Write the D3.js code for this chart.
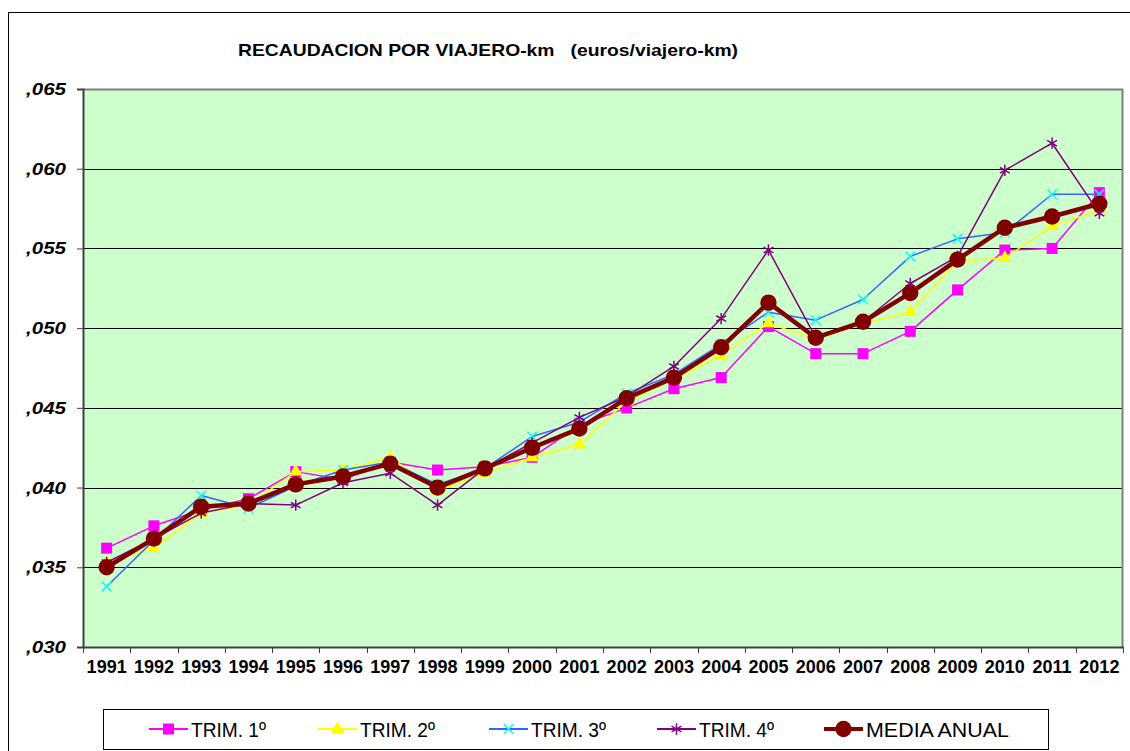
<!DOCTYPE html>
<html>
<head>
<meta charset="utf-8">
<script src="https://cdn.jsdelivr.net/npm/d3@7"></script>
<style>
  body { margin: 0; background: #fff; }
  svg { display: block; font-family: Arial, 'Liberation Sans', sans-serif; }
</style>
</head>
<body>
<div id="chart"></div>
<script>
// years on the category axis
const years = ['1991', '1992', '1993', '1994', '1995', '1996', '1997', '1998', '1999', '2000', '2001',
  '2002', '2003', '2004', '2005', '2006', '2007', '2008', '2009', '2010', '2011', '2012'];

// euros per viajero-km
const trim1 = [0.0362, 0.0376, 0.0386, 0.0393, 0.0410, 0.0405, 0.0416, 0.0411, 0.0413, 0.0419, 0.0439,
  0.0450, 0.0462, 0.0469, 0.0501, 0.0484, 0.0484, 0.0498, 0.0524, 0.0549, 0.0550, 0.0585];
const trim2 = [0.0353, 0.0362, 0.0384, 0.0389, 0.0410, 0.0411, 0.0419, 0.0398, 0.0409, 0.0419, 0.0427,
  0.0454, 0.0468, 0.0483, 0.0503, 0.0493, 0.0503, 0.0510, 0.0542, 0.0544, 0.0564, 0.0574];
const trim3 = [0.0338, 0.0367, 0.0395, 0.0387, 0.0401, 0.0411, 0.0416, 0.0402, 0.0412, 0.0432, 0.0441,
  0.0459, 0.0471, 0.0490, 0.0510, 0.0505, 0.0518, 0.0545, 0.0556, 0.0560, 0.0584, 0.0584];
const trim4 = [0.0353, 0.0368, 0.0384, 0.0390, 0.0389, 0.0403, 0.0409, 0.0389, 0.0412, 0.0428, 0.0444,
  0.0457, 0.0476, 0.0506, 0.0549, 0.0494, 0.0504, 0.0528, 0.0545, 0.0599, 0.0616, 0.0572];
const media = [0.0350, 0.0368, 0.0388, 0.0390, 0.0402, 0.0407, 0.0415, 0.0400, 0.0412, 0.0425, 0.0437,
  0.0456, 0.0469, 0.0488, 0.0516, 0.0494, 0.0504, 0.0522, 0.0543, 0.0563, 0.0570, 0.0578];

const yTicks = [0.030, 0.035, 0.040, 0.045, 0.050, 0.055, 0.060, 0.065];
const yTickLabels = [',030', ',035', ',040', ',045', ',050', ',055', ',060', ',065'];

const title = 'RECAUDACION POR VIAJERO-km   (euros/viajero-km)';

const series = [
  {name: 'TRIM. 1º', values: trim1, line: '#ff00ff', mark: '#ff00ff', shape: 'square', width: 1.5},
  {name: 'TRIM. 2º', values: trim2, line: '#ffff00', mark: '#ffff00', shape: 'triangle', width: 1.5},
  {name: 'TRIM. 3º', values: trim3, line: '#3366ff', mark: '#00ffff', shape: 'x', width: 1.5},
  {name: 'TRIM. 4º', values: trim4, line: '#800080', mark: '#800080', shape: 'star', width: 1.5},
  {name: 'MEDIA ANUAL', values: media, line: '#800000', mark: '#800000', shape: 'circle', width: 4.5}
];

const width = 1130, height = 751;
const plot = {left: 83, right: 1123, top: 89, bottom: 647};

const svg = d3.select('#chart').append('svg')
  .attr('width', width)
  .attr('height', height);

// outer chart frame
svg.append('rect')
  .attr('x', 8.5).attr('y', 12.5)
  .attr('width', 1128).attr('height', 760)
  .attr('fill', '#fff').attr('stroke', '#000').attr('stroke-width', 1);

svg.append('text')
  .attr('x', 238).attr('y', 56)
  .attr('textLength', 500).attr('lengthAdjust', 'spacingAndGlyphs')
  .style('font-size', '17px').style('font-weight', 'bold')
  .attr('xml:space', 'preserve')
  .text(title);

let x = d3.scaleBand().domain(years).range([plot.left, plot.right]);
let y = d3.scaleLinear().domain([0.030, 0.065]).range([plot.bottom, plot.top]);

svg.append('rect')
  .attr('x', plot.left).attr('y', plot.top)
  .attr('width', plot.right - plot.left).attr('height', plot.bottom - plot.top)
  .attr('fill', '#ccffcc');

// gridlines
svg.append('g')
  .selectAll('line')
  .data(yTicks.slice(1, -1))
  .enter().append('line')
  .attr('x1', plot.left).attr('x2', plot.right)
  .attr('y1', d => Math.round(y(d)) + 0.5).attr('y2', d => Math.round(y(d)) + 0.5)
  .attr('stroke', '#000').attr('stroke-width', 1);

// top and right border of plot area
svg.append('path')
  .attr('d', `M${plot.left},${plot.top + 0.5}H${plot.right - 0.5}V${plot.bottom}`)
  .attr('fill', 'none').attr('stroke', '#808080').attr('stroke-width', 2);

// y axis
let yAxis = d3.axisLeft(y)
  .tickValues(yTicks)
  .tickSize(6)
  .tickFormat((d, i) => yTickLabels[i]);

let gy = svg.append('g')
  .attr('transform', `translate(${plot.left},0)`)
  .call(yAxis);
gy.select('.domain').attr('stroke', '#404040').attr('stroke-width', 2);
gy.selectAll('.tick line').attr('stroke', '#404040');
gy.selectAll('.tick text')
  .attr('x', -17)
  .attr('textLength', 40).attr('lengthAdjust', 'spacingAndGlyphs')
  .style('font-size', '17px').style('font-weight', 'bold').style('font-style', 'italic')
  .style('font-family', 'Arial, Liberation Sans, sans-serif')
  .attr('fill', '#000');

// x axis, ticks between categories
let xAxis = d3.axisBottom(x).tickSize(0).tickSizeOuter(0);
let gx = svg.append('g')
  .attr('transform', `translate(0,${plot.bottom})`)
  .call(xAxis);
gx.select('.domain').attr('stroke', '#404040').attr('stroke-width', 2);
gx.selectAll('.tick text')
  .attr('y', 13)
  .style('font-size', '18px').style('font-weight', 'bold')
  .style('font-family', 'Arial, Liberation Sans, sans-serif')
  .attr('fill', '#000');
gx.append('g')
  .selectAll('line')
  .data(years.concat(['end']))
  .enter().append('line')
  .attr('x1', (d, i) => Math.round(plot.left + i * x.step()) + 0.5)
  .attr('x2', (d, i) => Math.round(plot.left + i * x.step()) + 0.5)
  .attr('y1', 0).attr('y2', 6)
  .attr('stroke', '#404040');

let cx = d => x(d) + x.bandwidth() / 2;

let symbolFor = shape => {
  if (shape === 'square') return d3.symbol(d3.symbolSquare, 121);
  if (shape === 'triangle') return d3.symbol(d3.symbolTriangle, 80);
  if (shape === 'circle') return d3.symbol(d3.symbolCircle, 210);
  if (shape === 'x') return d3.symbol(d3.symbolTimes, 60);
  return d3.symbol(d3.symbolAsterisk, 90);
};

let drawMarker = (g, s, px, py) => {
  let p = g.append('path')
    .attr('d', symbolFor(s.shape)())
    .attr('transform', `translate(${px},${py})`);
  if (s.shape === 'x' || s.shape === 'star') {
    p.attr('fill', 'none').attr('stroke', s.mark).attr('stroke-width', 1.5);
  } else {
    p.attr('fill', s.mark).attr('stroke', 'none');
  }
};

let line = d3.line()
  .x((d, i) => cx(years[i]))
  .y(d => y(d));

series.forEach(s => {
  let g = svg.append('g');
  g.append('path')
    .attr('d', line(s.values))
    .attr('fill', 'none')
    .attr('stroke', s.line)
    .attr('stroke-width', s.width)
    .attr('stroke-linejoin', 'round');
  s.values.forEach((v, i) => drawMarker(g, s, cx(years[i]), y(v)));
});

// legend
let legend = svg.append('g');
legend.append('rect')
  .attr('x', 103.5).attr('y', 709.5)
  .attr('width', 945).attr('height', 40)
  .attr('fill', '#fff').attr('stroke', '#000');

const legendLeft = [149, 318, 489, 657, 824];
const legendTextLen = [75, 75, 75, 75, 143];
const legendY = 729;

series.forEach((s, i) => {
  let g = legend.append('g');
  let x0 = legendLeft[i];
  g.append('line')
    .attr('x1', x0).attr('x2', x0 + 39)
    .attr('y1', legendY).attr('y2', legendY)
    .attr('stroke', s.line)
    .attr('stroke-width', s.shape === 'circle' ? 4 : 2);
  drawMarker(g, s, x0 + 19.5, legendY);
  g.append('text')
    .attr('x', x0 + 42).attr('y', legendY + 8)
    .attr('textLength', legendTextLen[i]).attr('lengthAdjust', 'spacingAndGlyphs')
    .style('font-size', '21px')
    .text(s.name);
});
</script>
</body>
</html>
